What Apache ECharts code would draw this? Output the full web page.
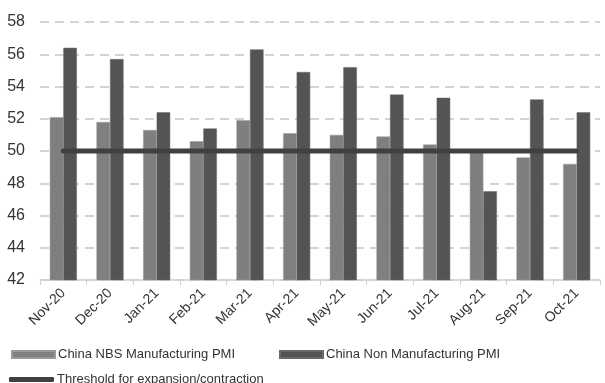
<!DOCTYPE html>
<html><head><meta charset="utf-8">
<script src="https://cdn.jsdelivr.net/npm/echarts@6/dist/echarts.min.js"></script>
<style>html,body{margin:0;padding:0;background:#fff}#c{width:605px;height:383px}</style>
</head><body><div id="c"></div>
<script>
const categories = ['Nov-20','Dec-20','Jan-21','Feb-21','Mar-21','Apr-21','May-21','Jun-21','Jul-21','Aug-21','Sep-21','Oct-21'];
const manufacturing = [52.1,51.8,51.3,50.6,51.9,51.1,51.0,50.9,50.4,50.1,49.6,49.2];
const nonManufacturing = [56.4,55.7,52.4,51.4,56.3,54.9,55.2,53.5,53.3,47.5,53.2,52.4];
const threshold = [50,50,50,50,50,50,50,50,50,50,50,50];
const yTicks = {min:42, max:58, interval:2};

const chart = echarts.init(document.getElementById('c'));
const font = 'Liberation Sans, Arial, sans-serif';
chart.setOption({
  animation:false,
  textStyle:{fontFamily:font},
  grid:{left:40, right:5, top:22, bottom:103},
  legend:[
    {data:[{name:'China NBS Manufacturing PMI', icon:'rect'}], left:6, top:343, itemWidth:43, itemHeight:7,
     textStyle:{fontSize:13, color:'#333', fontFamily:font, padding:[0,0,0,-2]}},
    {data:[{name:'China Non Manufacturing PMI', icon:'rect'}], left:274, top:343, itemWidth:43, itemHeight:7,
     textStyle:{fontSize:13, color:'#333', fontFamily:font, padding:[0,0,0,-2]}},
    {data:[{name:'Threshold for expansion/contraction', icon:'roundRect'}], left:4, top:368, itemWidth:45, itemHeight:5,
     textStyle:{fontSize:13, color:'#333', fontFamily:font, padding:[0,0,0,-2]}}
  ],
  xAxis:{type:'category', data:categories, boundaryGap:true,
    axisLine:{lineStyle:{color:'#d0d0d0', width:1.5}},
    axisTick:{show:true, length:5, lineStyle:{color:'#d0d0d0'}},
    axisLabel:{rotate:45, fontSize:14, color:'#333', margin:11, interval:0}},
  yAxis:{type:'value', min:yTicks.min, max:yTicks.max, interval:yTicks.interval,
    axisLine:{show:false}, axisTick:{show:false},
    axisLabel:{fontSize:16, color:'#333', margin:15},
    splitLine:{lineStyle:{color:'#d4d4d4', type:[9,6], width:2}}},
  series:[
    {name:'China NBS Manufacturing PMI', type:'bar', data:manufacturing, barGap:'0%', barCategoryGap:'42%',
     itemStyle:{color:'#7f7f7f', borderColor:'#9a9a9a', borderWidth:0.5}},
    {name:'China Non Manufacturing PMI', type:'bar', data:nonManufacturing,
     itemStyle:{color:'#545454', borderColor:'#6a6a6a', borderWidth:0.5}},
    {name:'Threshold for expansion/contraction', type:'line', data:threshold, symbol:'none',
     lineStyle:{color:'#404040', width:5, cap:'round'}, itemStyle:{color:'#404040'}, z:5}
  ]
});
</script></body></html>
